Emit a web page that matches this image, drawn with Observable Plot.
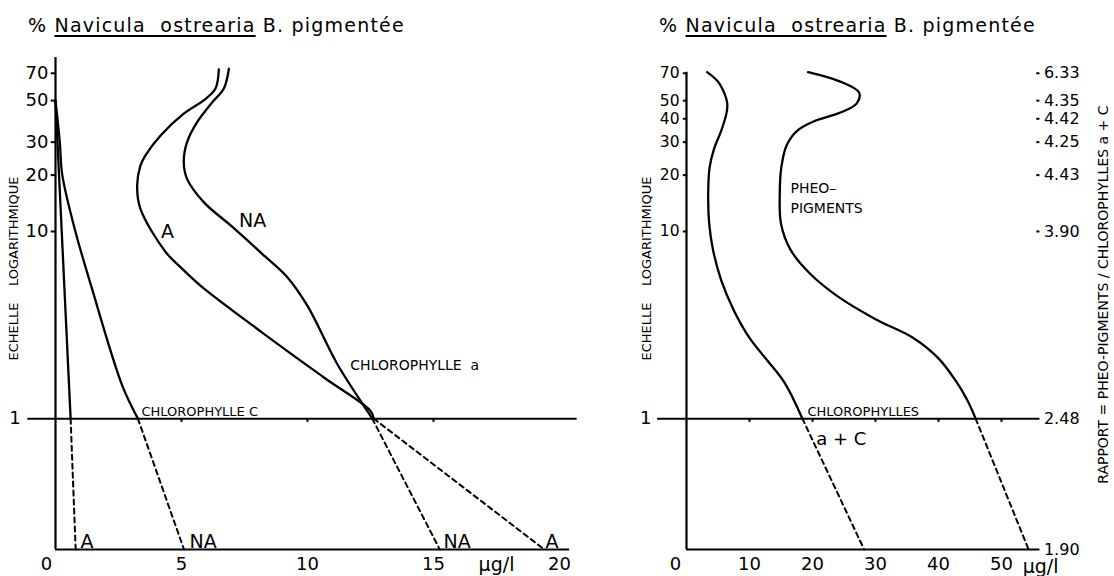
<!DOCTYPE html>
<html><head><meta charset="utf-8">
<script src="https://cdn.jsdelivr.net/npm/d3@7"></script>
<script src="https://cdn.jsdelivr.net/npm/@observablehq/plot@0.6"></script>
<style>
body{margin:0;background:#fff;}
#wrap{position:relative;width:1114px;height:576px;overflow:hidden;font-family:"DejaVu Sans",sans-serif;color:#000;background:#fff;}
.title{position:absolute;top:16px;font-size:19px;line-height:19px;white-space:nowrap;letter-spacing:1.2px;}
.title u{text-decoration:underline;text-underline-offset:3px;text-decoration-thickness:1.5px;}
.panel{position:absolute;top:0;}
g[aria-label="small-caps"] text{letter-spacing:1.2px;}
g[aria-label="vert"] text{letter-spacing:2px;}
g[aria-label="echelle"] text{letter-spacing:2.2px;}
</style></head><body>
<div id="wrap">
  <div class="title" style="left:28px">% <u>Navicula&nbsp;&nbsp;ostrearia</u> B. pigmentée</div>
  <div class="title" style="left:659px">% <u>Navicula&nbsp;&nbsp;ostrearia</u> B. pigmentée</div>
  <div class="panel" id="p1" style="left:0px"></div>
  <div class="panel" id="p2" style="left:580px"></div>
</div>
<script>
// ---------- data (x = µg/l, y = % Navicula ostrearia pigmentée, log scale) ----------
const yFloor = 0.2, yTop = 85;
const yTicksLeft = [10, 20, 30, 50, 70];
const xTicksLeft = [5, 10, 15, 20];
const yTicksRight = [10, 20, 30, 40, 50, 70];
const xTicksRight = [10, 20, 30, 40, 50];

// Left: chlorophylle c
const chlcA = [[0.0, 50], [0.6, 1]];
const chlcAExt = [[0.6, 1], [0.8, yFloor]];
const chlcNA = [[0.0, 50], [0.17, 30], [0.27, 20], [0.79, 10], [1.41, 5.15], [2.65, 1.5], [3.27, 1]];
const chlcNAExt = [[3.27, 1], [5.1, yFloor]];
// Left: chlorophylle a
const chlaA = [[6.48, 73.5], [6.35, 58], [5.95, 51], [5.09, 42.6], [4.17, 32.6], [3.57, 25.5], [3.37, 22.5], [3.24, 17.6], [3.37, 13.2], [4.37, 7.77], [4.96, 6.45], [5.75, 5.14], [8.27, 2.84], [10.65, 1.66], [12.5, 1.1], [12.63, 1]];
const chlaAExt = [[12.63, 1], [19.4, yFloor]];
const chlaNA = [[6.88, 74], [6.68, 58], [6.22, 49], [5.62, 38.4], [5.22, 30], [5.09, 23.5], [5.22, 19.1], [5.89, 14.3], [6.94, 10.8], [8.2, 7.6], [9.2, 5.7], [10.0, 4.0], [11.18, 1.96], [12.37, 1.1], [12.57, 1]];
const chlaNAExt = [[12.57, 1], [15.25, yFloor]];

// Right: chlorophylles a + c and pheopigments
const chlAC = [[3.27, 71], [4.95, 63.4], [6.08, 54], [6.47, 48.2], [6.36, 43], [5.52, 34.6], [4.40, 27.8], [3.67, 22], [3.44, 15.6], [3.6, 11], [4.2, 8], [5.5, 5.5], [7.5, 3.8], [10, 2.7], [12.8, 2.05], [15.6, 1.55], [18.4, 1]];
const chlACExt = [[18.4, 1], [28.2, yFloor]];
const pheo = [[19.3, 71], [24.3, 63.4], [27.4, 55.2], [27.0, 48.2], [24.3, 43], [20.4, 39], [17.6, 34.6], [15.9, 28.9], [15.05, 22], [14.8, 15.6], [15.0, 11], [16.5, 8], [19.5, 6], [24, 4.5], [30, 3.4], [36, 2.7], [40, 2.1], [42.7, 1.6], [44.6, 1.25], [45.9, 1]];
const pheoExt = [[45.9, 1], [54.3, yFloor]];

// Rapport pheo-pigments / chlorophylles a + c
const ratioAt = [70, 50, 40, 30, 20, 10, 1, yFloor];
const ratioText = ["6.33", "4.35", "4.42", "4.25", "4.43", "3.90", "2.48", "1.90"];

// ---------- helpers ----------
const FONT = "DejaVu Sans, sans-serif";
const pts = a => a.map(([x, y]) => ({x, y}));
const solid = a => Plot.line(pts(a), {x: "x", y: "y", curve: "catmull-rom", stroke: "black", strokeWidth: 2.3});
const dashed = a => Plot.line(pts(a), {x: "x", y: "y", curve: "linear", stroke: "black", strokeWidth: 2, strokeDasharray: "5,4"});
const label = (t, x, y, o = {}) => Plot.text([{x, y, t}], {x: "x", y: "y", text: "t", fill: "black", fontSize: 18, ...o});
const yAxis = (ticks, len, fs) => [
  Plot.ruleY(ticks, {y: d => d, x1: 0, x2: -len, strokeWidth: 2}),
  Plot.text(ticks, {x: 0, y: d => d, text: d => String(d), dx: -7, textAnchor: "end", fontSize: fs, fill: "black"})
];
const xAxis = ticks => Plot.text(ticks, {x: d => d, y: yFloor, text: d => String(d), dy: 8, lineAnchor: "top", fontSize: 18, fill: "black"});

const frame = {
  height: 576, marginTop: 57, marginBottom: 27,
  y: {type: "log", domain: [yFloor, yTop], axis: null},
  style: {fontFamily: FONT, color: "black", background: "transparent", overflow: "visible"}
};

// ---------- left panel ----------
const left = Plot.plot({
  ...frame,
  width: 580, marginLeft: 55, marginRight: 21,
  x: {domain: [0, 20], axis: null},
  marks: [
    Plot.ruleX([0], {y1: yFloor, y2: yTop, strokeWidth: 2.2}),
    Plot.ruleY([yFloor], {x1: 0, x2: 20.4, strokeWidth: 2}),
    Plot.ruleY([1], {x1: -1.1, x2: 20.7, strokeWidth: 2}),
    Plot.ruleX([5, 10, 15], {y1: 1, y2: 0.955, strokeWidth: 2}),
    ...yAxis(yTicksLeft, 0.17, 18),
    xAxis(xTicksLeft),
    label("0", 0, yFloor, {dx: -9, dy: 8, lineAnchor: "top"}),
    label("1", -1.1, 1, {dx: -7, textAnchor: "end"}),
    label("µg/l", 17.5, yFloor, {dy: 8, lineAnchor: "top", fontSize: 19}),
    label("ECHELLE\u00a0\u00a0\u00a0\u00a0LOGARITHMIQUE", -1.67, 6.34, {rotate: -90, fontSize: 13, ariaLabel: "echelle"}),
    solid(chlcA), dashed(chlcAExt),
    solid(chlcNA), dashed(chlcNAExt),
    solid(chlaA), dashed(chlaAExt),
    solid(chlaNA), dashed(chlaNAExt),
    label("A", 4.44, 9.9, {fontSize: 19}),
    label("NA", 7.82, 11.4, {fontSize: 19}),
    label("CHLOROPHYLLE\u00a0\u00a0a", 11.7, 1.92, {textAnchor: "start", fontSize: 14, ariaLabel: "small-caps"}),
    label("CHLOROPHYLLE C", 3.41, 1, {textAnchor: "start", lineAnchor: "bottom", dy: -3, fontSize: 13, ariaLabel: "small-caps"}),
    label("A", 0.99, yFloor, {textAnchor: "start", lineAnchor: "bottom", dy: -2, fontSize: 19}),
    label("NA", 5.32, yFloor, {textAnchor: "start", lineAnchor: "bottom", dy: -2, fontSize: 19}),
    label("NA", 15.4, yFloor, {textAnchor: "start", lineAnchor: "bottom", dy: -2, fontSize: 19}),
    label("A", 19.44, yFloor, {textAnchor: "start", lineAnchor: "bottom", dy: -2, fontSize: 19})
  ]
});
document.getElementById("p1").append(left);

// ---------- right panel ----------
const ratioRows = ratioAt.map((y, i) => ({y, t: ratioText[i]}));
const right = Plot.plot({
  ...frame,
  width: 534, marginLeft: 106, marginRight: 81.5,
  x: {domain: [0, 55], axis: null},
  marks: [
    Plot.ruleX([0], {y1: yFloor, y2: 71, strokeWidth: 2.2}),
    Plot.ruleY([yFloor], {x1: 0, x2: 56.1, strokeWidth: 2}),
    Plot.ruleY([1], {x1: -4.6, x2: 56.1, strokeWidth: 2}),
    Plot.ruleX(xTicksRight, {y1: 1, y2: 0.955, strokeWidth: 2}),
    ...yAxis(yTicksRight, 0.5, 15.5),
    xAxis(xTicksRight),
    label("0", 0, yFloor, {dx: -11, dy: 8, lineAnchor: "top"}),
    label("1", -4.6, 1, {dx: -6, textAnchor: "end"}),
    label("µg/l", 56.2, yFloor, {dy: 10, lineAnchor: "top", fontSize: 19}),
    label("ECHELLE\u00a0\u00a0\u00a0\u00a0LOGARITHMIQUE", -6.35, 6.34, {rotate: -90, fontSize: 13, ariaLabel: "echelle"}),
    solid(chlAC), dashed(chlACExt),
    solid(pheo), dashed(pheoExt),
    label("PHEO\u2013", 16.5, 17, {textAnchor: "start", fontSize: 14, ariaLabel: "small-caps"}),
    label("PIGMENTS", 16.5, 13.3, {textAnchor: "start", fontSize: 14, ariaLabel: "small-caps"}),
    label("CHLOROPHYLLES", 19.2, 1, {textAnchor: "start", lineAnchor: "bottom", dy: -3, fontSize: 13, ariaLabel: "small-caps"}),
    label("a + C", 20.6, 0.78, {textAnchor: "start", fontSize: 18}),
    Plot.ruleY(ratioRows.slice(0, 6), {y: "y", x1: 55.6, x2: 56.1, strokeWidth: 2}),
    Plot.text(ratioRows, {x: 56.1, y: "y", text: "t", dx: 4, textAnchor: "start", fontSize: 16, fill: "black"}),
    label("RAPPORT = PHEO-PIGMENTS / CHLOROPHYLLES a + C", 66.2, 4.6, {rotate: -90, fontSize: 14, ariaLabel: "vert"})
  ]
});
document.getElementById("p2").append(right);
</script>
</body></html>
